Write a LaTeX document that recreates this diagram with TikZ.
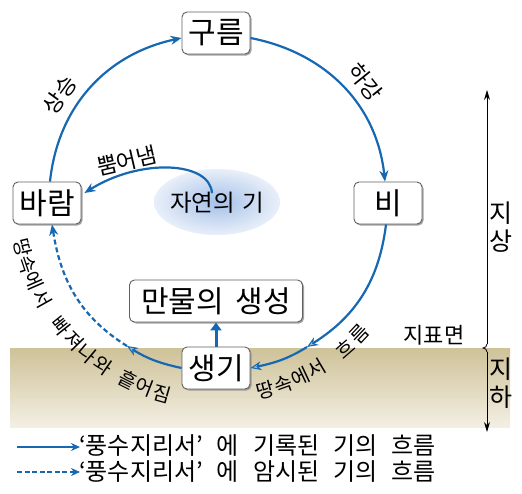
\documentclass[tikz,border=0pt]{standalone}
\usepackage{fontspec}
\setmainfont{Noto Sans CJK KR}
\usetikzlibrary{arrows.meta,shadows}
\definecolor{flow}{RGB}{22,104,178}
\definecolor{groundtop}{RGB}{206,194,152}
\definecolor{groundbot}{RGB}{243,239,228}
\definecolor{boxline}{RGB}{95,95,95}
\definecolor{mist}{RGB}{165,192,232}
\newcommand\wgap{\hspace{14pt}}
\begin{document}
\begin{tikzpicture}[x=1pt,y=1pt,
  box/.style={draw=boxline, line width=0.9pt, rounded corners=5pt, fill=white,
    minimum height=42pt, minimum width=68pt, inner sep=2pt,
    font=\fontsize{30}{32}\selectfont,
    drop shadow={shadow xshift=1.5pt, shadow yshift=-1.5pt, fill=black!45, opacity=0.8}},
  flowline/.style={draw=flow, line width=2.2pt, -{Stealth[length=11pt,width=9pt]}},
  midflow/.style={draw=flow, line width=2.2pt, -{Stealth[length=11pt,width=9pt,fill=flow!45!white,line width=1pt]}},
  dashflow/.style={draw=flow, line width=2.2pt, dash pattern=on 5pt off 3pt, -{Stealth[length=11pt,width=9pt]}},
  lbl/.style={font=\fontsize{22}{24}\selectfont, inner sep=0pt},
  arcchar/.style={font=\fontsize{19.5}{21}\selectfont, inner sep=0pt},
  axis/.style={draw=black, line width=0.8pt},
  axtip/.style={axis, -{Stealth[length=10pt,width=6pt]}}
]
\useasboundingbox (0,0) rectangle (522,-493);

% ground
\shade[top color=groundtop, bottom color=groundbot] (10,-348) rectangle (510,-427);

% mist of nature
\shade[inner color=mist, outer color=mist!25!white] (217,-202) ellipse [x radius=63, y radius=33];
\node[font=\fontsize{23.5}{25}\selectfont, inner sep=0pt] (nature) at (217,-203) {자연의\hspace{7pt}기};

% boxes
\node[box] (gureum) at (216,-33) {구름};
\node[box] (bi) at (388,-203) {비};
\node[box] (baram) at (47,-203) {바람};
\node[box] (saenggi) at (216,-368) {생기};
\node[box, minimum width=173pt] (manmul) at (216,-301) {만물의\hspace{12pt}생성};

% circle flows
\coordinate (ctr) at (217,-201);
\coordinate (g1) at (307,-347);
\coordinate (g2) at (127,-346);
\draw[flowline] ([xshift=3pt]baram.north) to[out=84,in=192] ([yshift=-5pt]gureum.west);
\draw[flowline] ([yshift=-5pt]gureum.east) to[out=-11,in=96] ([xshift=-3pt]bi.north);
\draw[midflow] ([xshift=-2pt]bi.south) to[out=-97,in=32] (g1);
\draw[midflow] (g1) to[out=-148,in=12] (saenggi.east);
\draw[midflow] (saenggi.west) to[out=168,in=-32] (g2);
\draw[dashflow] (g2) to[out=148,in=-81] ([xshift=5pt]baram.south);

% nature -> wind
\draw[flowline] ([xshift=-5pt,yshift=-1pt]nature.north) .. controls +(-2,32) and (140,-158) .. ([yshift=10pt,xshift=3pt]baram.east);
% saenggi -> manmul
\draw[draw=flow, line width=3pt, -{Triangle[length=8pt,width=11pt]}] (saenggi.north) -- (manmul.south);

% labels on arcs
\node[lbl, rotate=54] (l1) at (59.5,-94.8) {상승};
\node[lbl, rotate=-51] (l2) at (365.3,-82.2) {하강};
\node[lbl, rotate=13] (l3) at (127,-161) {뿜어냄};
\foreach \ang/\ch [count=\i] in {193.4/땅,198.5/속,203.6/에,209.3/서,218.6/빠,224.2/져,229.6/나,235.2/와,243.4/흩,248.7/어,254.2/짐}
  \node[arcchar, rotate=\ang+90] (la\i) at ([shift={(\ang:200)}]ctr) {\ch};
\foreach \ang/\ch [count=\i] in {-75.5/땅,-70.1/속,-64.8/에,-59.3/서,-49/흐,-43.2/름}
  \node[arcchar, rotate=\ang+90] (lr\i) at ([shift={(\ang:195)}]ctr) {\ch};

% vertical axis
\coordinate (axtop) at (487,-90);
\coordinate (axbot) at (487,-432);
\coordinate (axa) at (487,-344);
\coordinate (axb) at (487,-352);
\coordinate (axc) at (483,-348);
\draw[axtip] (axa) -- (axtop);
\draw[axtip] (axb) -- (axbot);
\draw[axis] (axa) to[out=-90,in=0] (axc) to[out=0,in=90] (axb);
\node[font=\fontsize{25}{28}\selectfont, align=center, inner sep=0pt] (jisang) at (501,-227) {지\\상};
\node[font=\fontsize{25}{28}\selectfont, align=center, inner sep=0pt] (jiha) at (501,-383) {지\\하};
\node[lbl] (surface) at (434,-335) {지표면};

% legend
\coordinate (la1) at (17,-447);
\coordinate (lb1) at (80,-447);
\coordinate (la2) at (17,-472);
\coordinate (lb2) at (80,-472);
\draw[draw=flow, line width=2.4pt, -{Stealth[length=9pt,width=8pt]}] (la1) -- (lb1);
\draw[draw=flow, line width=2.6pt, dash pattern=on 5pt off 2.5pt, -{Stealth[length=9pt,width=8pt]}] (la2) -- (lb2);
\node[anchor=west, inner sep=0pt, font=\fontsize{24}{26}\selectfont] (leg1) at (79,-446) {‘풍수지리서’\wgap 에\wgap 기록된\wgap 기의\wgap 흐름};
\node[anchor=west, inner sep=0pt, font=\fontsize{24}{26}\selectfont] (leg2) at (79,-472) {‘풍수지리서’\wgap 에\wgap 암시된\wgap 기의\wgap 흐름};
\end{tikzpicture}
\end{document}
